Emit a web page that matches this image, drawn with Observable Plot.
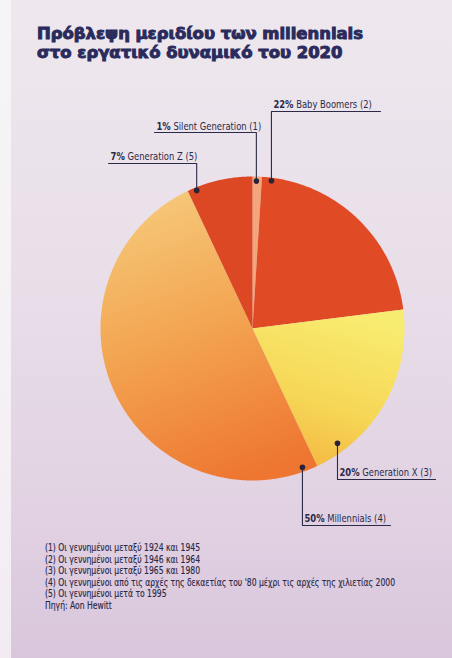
<!DOCTYPE html>
<html>
<head>
<meta charset="utf-8">
<script src="https://cdn.jsdelivr.net/npm/d3@7"></script>
<script src="https://cdn.jsdelivr.net/npm/@observablehq/plot@0.6"></script>
<style>
html, body { margin: 0; padding: 0; }
body {
  width: 452px; height: 658px; overflow: hidden; position: relative;
  background: linear-gradient(180deg, #eee8ee 0%, #e9dfe9 40%, #e2d3e3 75%, #d9c6dc 100%);
  font-family: "Liberation Sans Narrow", "DejaVu Sans Condensed", sans-serif;
}
#edge { position: absolute; left: 0; top: 0; width: 11px; height: 658px; background: rgba(250,248,250,0.75); }
#title {
  position: absolute; left: 37px; top: 25px; color: #2a2b5c;
  font-family: "DejaVu Sans Condensed", "DejaVu Sans", sans-serif; font-weight: bold;
  font-size: 16px; line-height: 18.7px; transform-origin: 0 0; white-space: nowrap;
  -webkit-text-stroke: 0.9px #2a2b5c;
}
#title div, #notes div { display: block; width: max-content; }
#chart { position: absolute; left: 0; top: 70px; }
#notes {
  position: absolute; left: 45px; top: 542px; color: #2a2946;
  font-size: 11px; line-height: 11.6px; transform-origin: 0 0; white-space: nowrap;
  -webkit-text-stroke: 0.15px #2a2946;
}
</style>
</head>
<body>
<div id="edge"></div>
<div id="title"></div>
<div id="chart"></div>
<div id="notes"></div>
<script>
// ---- data ----
const titleLines = ["Πρόβλεψη μεριδίου των millennials", "στο εργατικό δυναμικό του 2020"];
const generations = ["Silent Generation", "Baby Boomers", "Generation X", "Millennials", "Generation Z"];
const noteRefs = ["(1)", "(2)", "(3)", "(4)", "(5)"];
const shares = [1, 22, 20, 50, 7];
const footnotes = [
  "(1) Οι γεννημένοι μεταξύ 1924 και 1945",
  "(2) Οι γεννημένοι μεταξύ 1946 και 1964",
  "(3) Οι γεννημένοι μεταξύ 1965 και 1980",
  "(4) Οι γεννημένοι από τις αρχές της δεκαετίας του '80 μέχρι τις αρχές της χιλιετίας 2000",
  "(5) Οι γεννημένοι μετά το 1995"
];
const source = "Πηγή: Aon Hewitt";

// ---- styling / annotation layout (not data) ----
const sliceFills = ["#f4a57c", "#e04a24", "url(#gradX)", "url(#gradMill)", "#dc4823"];
const ink = "#2b2a48";
// leader anchor: angle (deg, clockwise from top) & radius of the dot, y of the label rule, far end of the rule (pie radius = 1)
const leaderAngle = [1.5, 7.3, 143.5, 160.2, -22];
const leaderRadius = [0.97, 0.98, 0.94, 0.97, 0.98];
const ruleY = [1.289, 1.428, -0.993, -1.296, 1.086];
const ruleEnd = [-0.645, 0.842, 1.204, 0.908, -0.947];
const labelSqueeze = 0.85;

// ---- html text ----
document.getElementById("title").innerHTML = titleLines.map(t => `<div>${t}</div>`).join("");
document.getElementById("notes").innerHTML = [...footnotes, source].map(t => `<div>${t}</div>`).join("");

// ---- pie geometry ----
const rows = generations.map((g, i) => ({key: g, label: `${shares[i]}% ${g} ${noteRefs[i]}`, pct: `${shares[i]}%`, rest: ` ${g} ${noteRefs[i]}`, share: shares[i], i}));
const arcs = d3.pie().sort(null).value(d => d.share)(rows);
const slicePts = arcs.flatMap(a => {
  const key = a.data.key;
  const n = Math.max(2, Math.ceil((a.endAngle - a.startAngle) / (Math.PI / 360)));
  const pts = [{key, x: 0, y: 0}];
  for (let k = 0; k <= n; k++) {
    const t = a.startAngle + (a.endAngle - a.startAngle) * k / n;
    pts.push({key, x: Math.sin(t), y: Math.cos(t)});
  }
  pts.push({key, x: 0, y: 0});
  return pts;
});

const anchors = rows.map((d, i) => {
  const t = leaderAngle[i] * Math.PI / 180;
  return {...d, dx: Math.sin(t) * leaderRadius[i], dy: Math.cos(t) * leaderRadius[i], ry: ruleY[i], re: ruleEnd[i]};
});
const leaderPts = anchors.flatMap(d => [
  {key: d.key, x: d.dx, y: d.dy},
  {key: d.key, x: d.dx, y: d.ry},
  {key: d.key, x: d.re, y: d.ry}
]);

const chart = Plot.plot({
  width: 452,
  height: 465,
  margin: 0,
  x: {domain: [-1, 1], range: [100, 404], axis: null},
  y: {domain: [-1, 1], range: [410, 106], axis: null},
  color: {type: "ordinal", domain: generations, range: sliceFills},
  style: {background: "transparent", overflow: "visible", fontFamily: "'Liberation Sans Narrow','DejaVu Sans Condensed',sans-serif", fontSize: "11px", color: ink},
  marks: [
    Plot.line(slicePts, {x: "x", y: "y", z: "key", fill: "key", stroke: "none"}),
    Plot.line(leaderPts, {x: "x", y: "y", z: "key", stroke: ink, strokeWidth: 1.1}),
    Plot.dot(anchors, {x: "dx", y: "dy", r: 2.8, fill: "#2a2236", stroke: "none"}),
    Plot.text(anchors, {x: d => Math.min(d.dx, d.re), y: "ry", text: "label", textAnchor: "start", lineAnchor: "bottom", dx: 2, dy: -3, fill: ink, fontSize: 11})
  ]
});
document.getElementById("chart").append(chart);

// gradients for the two shaded slices
const svg = d3.select(chart.tagName === "svg" ? chart : chart.querySelector("svg"));
const defs = svg.insert("defs", ":first-child");
const gm = defs.append("linearGradient").attr("id", "gradMill").attr("x1", 0.35).attr("y1", 0.02).attr("x2", 0.62).attr("y2", 1);
gm.append("stop").attr("offset", 0).attr("stop-color", "#f5c676");
gm.append("stop").attr("offset", 0.45).attr("stop-color", "#f3a552");
gm.append("stop").attr("offset", 1).attr("stop-color", "#ee7631");
const gx = defs.append("linearGradient").attr("id", "gradX").attr("x1", 0.6).attr("y1", 0).attr("x2", 0.3).attr("y2", 1);
gx.append("stop").attr("offset", 0).attr("stop-color", "#f8ec70");
gx.append("stop").attr("offset", 0.6).attr("stop-color", "#f6d656");
gx.append("stop").attr("offset", 1).attr("stop-color", "#f4b842");

// bold percentages in labels, condensed horizontally like the printed face
svg.selectAll("g[aria-label='text'] text").each(function(_, j) {
  const d = anchors[j];
  const el = d3.select(this);
  el.text(null);
  el.append("tspan").attr("font-weight", "bold").text(d.pct);
  el.append("tspan").text(d.rest);
  const tr = el.attr("transform");
  if (tr && !el.attr("x")) {
    el.attr("transform", `${tr} scale(${labelSqueeze},1)`);
  } else {
    el.attr("textLength", this.getComputedTextLength() * labelSqueeze).attr("lengthAdjust", "spacingAndGlyphs");
  }
});

// condensed fitting of title and notes to the printed widths
function fit(boxId, lineIndex, target) {
  const box = document.getElementById(boxId);
  const w = box.children[lineIndex].getBoundingClientRect().width;
  box.style.transform = `scaleX(${target / w})`;
}
fit("title", 0, 326);
fit("notes", 3, 350);
</script>
</body>
</html>
